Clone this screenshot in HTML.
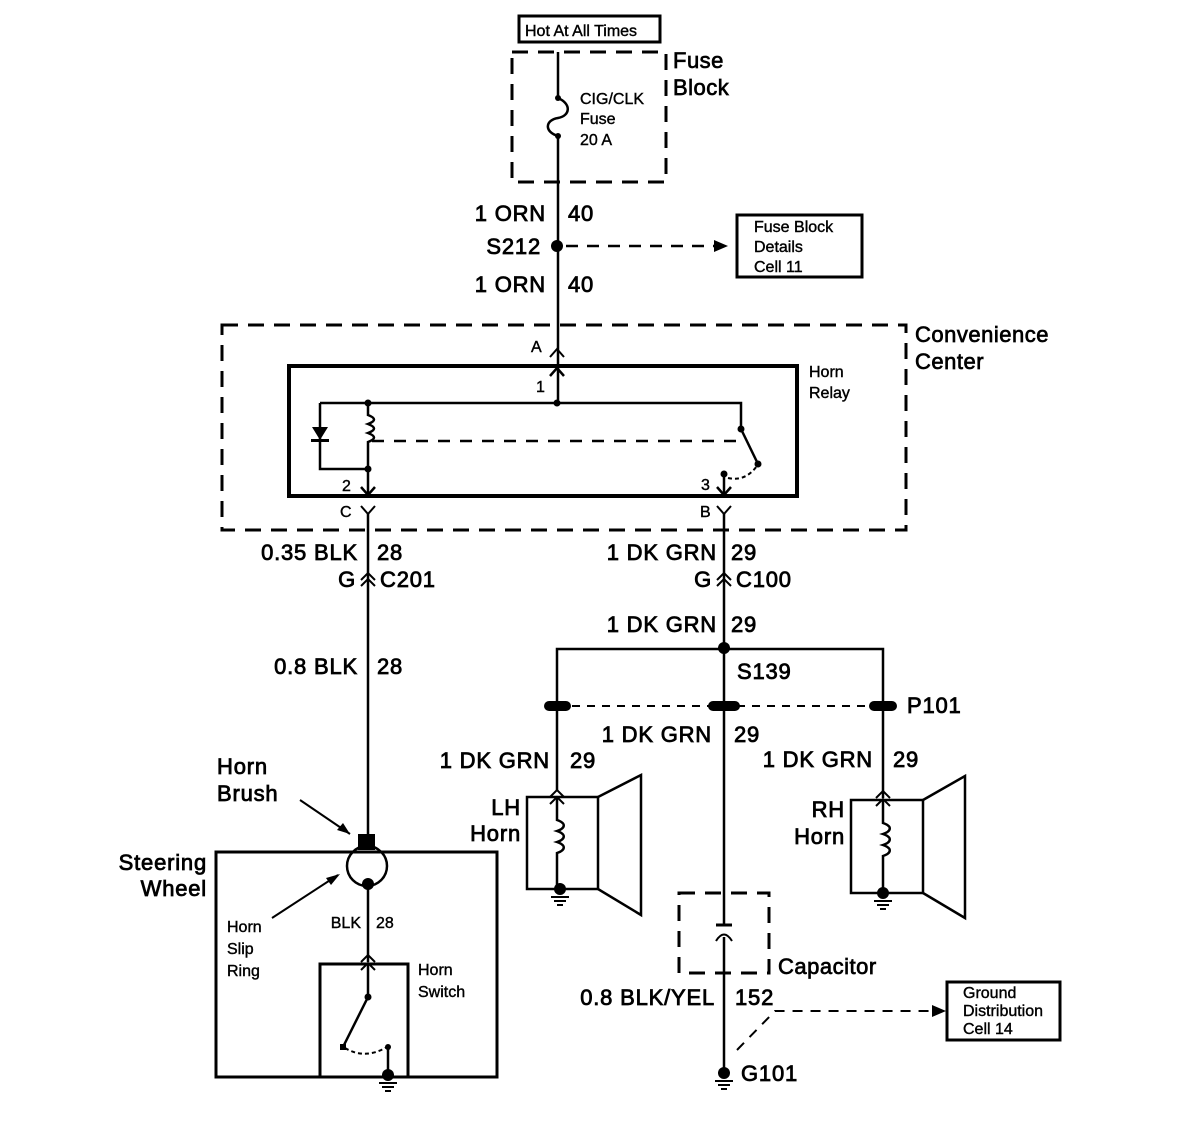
<!DOCTYPE html>
<html><head><meta charset="utf-8"><style>
html,body{margin:0;padding:0;background:#fff;width:1184px;height:1122px;overflow:hidden}
svg{display:block}
text{font-family:"Liberation Sans",Arial,sans-serif;fill:#000;stroke:#000;stroke-width:0.6}
.s{font-size:16px;stroke-width:0.4}
.m{font-size:22px;letter-spacing:0.8px;stroke-width:0.8}
.l{font-size:22px;letter-spacing:0.5px;stroke-width:0.7}
</style></head><body>
<svg width="1184" height="1122" viewBox="0 0 1184 1122" xmlns="http://www.w3.org/2000/svg">
<g fill="none" stroke="#000" stroke-width="2.5">
<rect x="519" y="16" width="141" height="26" stroke-width="3"/>
<rect x="512" y="52" width="154" height="130" stroke-dasharray="16,10" stroke-width="3"/>
<path d="M558 52 V98 C572 104 570 116 558 118 C545 120 544 132 558 136 V400"/>
<path d="M566 246 H716" stroke-dasharray="12,9"/>
<rect x="737" y="215" width="125" height="62" stroke-width="3"/>
<rect x="222" y="325" width="684" height="205" stroke-dasharray="16,10" stroke-width="3"/>
<path d="M550 357 L557 349 L564 357" stroke-width="2"/>
<rect x="289" y="366" width="508" height="130" stroke-width="4"/>
<path d="M550 376 L557 368 L564 376" stroke-width="2.5"/>
<path d="M320 403 H741 V429"/>
<path d="M320 403 V469 H368 M368 403 V415 c8 3 8 6 0 9 c8 3 8 6 0 9 c8 3 8 6 0 9 V469 V494"/>
<path d="M372 441 H740" stroke-dasharray="12,10"/>
<path d="M741 429 L758 464"/>
<path d="M724 474 V494"/>
<path d="M728 478 Q745 482 757 466" stroke-dasharray="4,3" stroke-width="2"/>
<path d="M361 487 L368 495 L375 487 M717 487 L724 495 L731 487"/>
<path d="M361 506 L368 514 L375 506 M717 506 L724 514 L731 506" stroke-width="2"/>
<path d="M368 514 V838 M724 514 V925 M724 937 V1072"/>
<path d="M361 580 L368 573 L375 580 M361 586 L368 579 L375 586 M717 580 L724 573 L731 580 M717 586 L724 579 L731 586" stroke-width="2"/>
<path d="M557 790 V649 H883 V798"/>
<path d="M557 706 H883" stroke-dasharray="8,7" stroke-width="2"/>
<rect x="527" y="797" width="71" height="92"/>
<path d="M598 797 L641 775 V915 L598 889"/>
<path d="M550 797 L557 790 L564 797 M550 804 L557 797 L564 804" stroke-width="2"/>
<path d="M557 797 V820 c9 3 9 8 0 11 c9 3 9 8 0 11 c9 3 9 8 0 11 V889"/>
<rect x="851" y="800" width="72" height="93"/>
<path d="M923 800 L965 776 V918 L923 893"/>
<path d="M876 798 L883 791 L890 798 M876 806 L883 799 L890 806" stroke-width="2"/>
<path d="M883 799 V823 c9 3 9 8 0 11 c9 3 9 8 0 11 c9 3 9 8 0 11 V893"/>
<rect x="679" y="893" width="90" height="80" stroke-dasharray="16,10" stroke-width="3"/>
<path d="M716 925 H732" stroke-width="3"/>
<path d="M716 941 Q724 928 732 941" stroke-width="2"/>
<path d="M737 1050 L775 1011 H935" stroke-dasharray="10,8" stroke-width="2"/>
<rect x="947" y="982" width="113" height="58" stroke-width="3"/>
<rect x="216" y="852" width="281" height="225" stroke-width="3"/>
<circle cx="367" cy="866" r="20"/>
<path d="M368 884 V962"/>
<path d="M361 962 L368 955 L375 962 M361 970 L368 963 L375 970" stroke-width="2"/>
<rect x="320" y="964" width="88" height="113" stroke-width="3"/>
<path d="M368 964 V997 L343 1047"/>
<path d="M345 1048 Q365 1060 387 1047" stroke-dasharray="4,3" stroke-width="2"/>
<path d="M388 1047 V1075"/>
<path d="M300 800 L350 834 M272 918 L338 875" stroke-width="2"/>
</g>
<g fill="#000">
<circle cx="558" cy="98" r="3"/><circle cx="558" cy="136" r="3"/>
<circle cx="557" cy="246" r="6"/>
<polygon points="728,246 714,240 714,252"/>
<polygon points="946,1011 932,1005 932,1017"/>
<polygon points="312,427 328,427 320,440"/><rect x="311" y="439" width="18" height="3"/>
<circle cx="368" cy="403" r="3.5"/><circle cx="368" cy="469" r="3.5"/><circle cx="557" cy="403" r="3.5"/>
<circle cx="741" cy="429" r="3.5"/><circle cx="758" cy="464" r="3.5"/><circle cx="724" cy="474" r="3.5"/>
<circle cx="724" cy="648" r="6"/>
<rect x="544" y="701" width="27" height="10" rx="5"/><rect x="708" y="701" width="32" height="10" rx="5"/><rect x="869" y="701" width="28" height="10" rx="5"/>
<circle cx="560" cy="889" r="6"/><circle cx="883" cy="893" r="6"/><circle cx="724" cy="1073" r="6"/><circle cx="388" cy="1075" r="6"/>
<circle cx="368" cy="884" r="6"/>
<rect x="358" y="834" width="17" height="16"/>
<circle cx="368" cy="997" r="3.5"/><rect x="340" y="1044" width="6" height="6"/><circle cx="388" cy="1047" r="3"/>
<polygon points="350,834 337,830 343,823"/>
<polygon points="340,874 326,878 331,885"/>
</g>
<g stroke="#000" stroke-width="2">
<path d="M551 897 H569 M554 901 H566 M557 905 H563"/>
<path d="M874 901 H892 M877 905 H889 M880 909 H886"/>
<path d="M715 1081 H733 M718 1085 H730 M721 1089 H727"/>
<path d="M379 1083 H397 M382 1087 H394 M385 1091 H391"/>
</g>
<text x="525" y="36" class="s">Hot At All Times</text>
<text x="580" y="104" class="s">CIG/CLK</text>
<text x="580" y="124" class="s">Fuse</text>
<text x="580" y="145" class="s">20 A</text>
<text x="673" y="68" class="l">Fuse</text>
<text x="673" y="95" class="l">Block</text>
<text x="546" y="221" class="m" text-anchor="end">1 ORN</text><text x="568" y="221" class="m">40</text>
<text x="541" y="254" class="m" text-anchor="end">S212</text>
<text x="546" y="292" class="m" text-anchor="end">1 ORN</text><text x="568" y="292" class="m">40</text>
<text x="754" y="232" class="s">Fuse Block</text>
<text x="754" y="252" class="s">Details</text>
<text x="754" y="272" class="s">Cell 11</text>
<text x="915" y="342" class="l">Convenience</text>
<text x="915" y="369" class="l">Center</text>
<text x="531" y="352" class="s">A</text>
<text x="536" y="392" class="s">1</text>
<text x="809" y="377" class="s">Horn</text>
<text x="809" y="398" class="s">Relay</text>
<text x="342" y="491" class="s">2</text><text x="701" y="490" class="s">3</text>
<text x="340" y="517" class="s">C</text><text x="700" y="517" class="s">B</text>
<text x="358" y="560" class="m" text-anchor="end">0.35 BLK</text><text x="377" y="560" class="m">28</text>
<text x="356" y="587" class="m" text-anchor="end">G</text><text x="380" y="587" class="m">C201</text>
<text x="717" y="560" class="m" text-anchor="end">1 DK GRN</text><text x="731" y="560" class="m">29</text>
<text x="712" y="587" class="m" text-anchor="end">G</text><text x="736" y="587" class="m">C100</text>
<text x="717" y="632" class="m" text-anchor="end">1 DK GRN</text><text x="731" y="632" class="m">29</text>
<text x="358" y="674" class="m" text-anchor="end">0.8 BLK</text><text x="377" y="674" class="m">28</text>
<text x="737" y="679" class="m">S139</text>
<text x="907" y="713" class="m">P101</text>
<text x="712" y="742" class="m" text-anchor="end">1 DK GRN</text><text x="734" y="742" class="m">29</text>
<text x="550" y="768" class="m" text-anchor="end">1 DK GRN</text><text x="570" y="768" class="m">29</text>
<text x="873" y="767" class="m" text-anchor="end">1 DK GRN</text><text x="893" y="767" class="m">29</text>
<text x="521" y="815" class="m" text-anchor="end">LH</text><text x="521" y="841" class="m" text-anchor="end">Horn</text>
<text x="845" y="817" class="m" text-anchor="end">RH</text><text x="845" y="844" class="m" text-anchor="end">Horn</text>
<text x="778" y="974" class="l">Capacitor</text>
<text x="715" y="1005" class="m" text-anchor="end">0.8 BLK/YEL</text><text x="735" y="1005" class="m">152</text>
<text x="741" y="1081" class="m">G101</text>
<text x="963" y="998" class="s">Ground</text>
<text x="963" y="1016" class="s">Distribution</text>
<text x="963" y="1034" class="s">Cell 14</text>
<text x="217" y="774" class="m">Horn</text><text x="217" y="801" class="m">Brush</text>
<text x="207" y="870" class="m" text-anchor="end">Steering</text><text x="207" y="896" class="m" text-anchor="end">Wheel</text>
<text x="227" y="932" class="s">Horn</text><text x="227" y="954" class="s">Slip</text><text x="227" y="976" class="s">Ring</text>
<text x="361" y="928" class="s" text-anchor="end">BLK</text><text x="376" y="928" class="s">28</text>
<text x="418" y="975" class="s">Horn</text><text x="418" y="997" class="s">Switch</text>
</svg>
</body></html>
